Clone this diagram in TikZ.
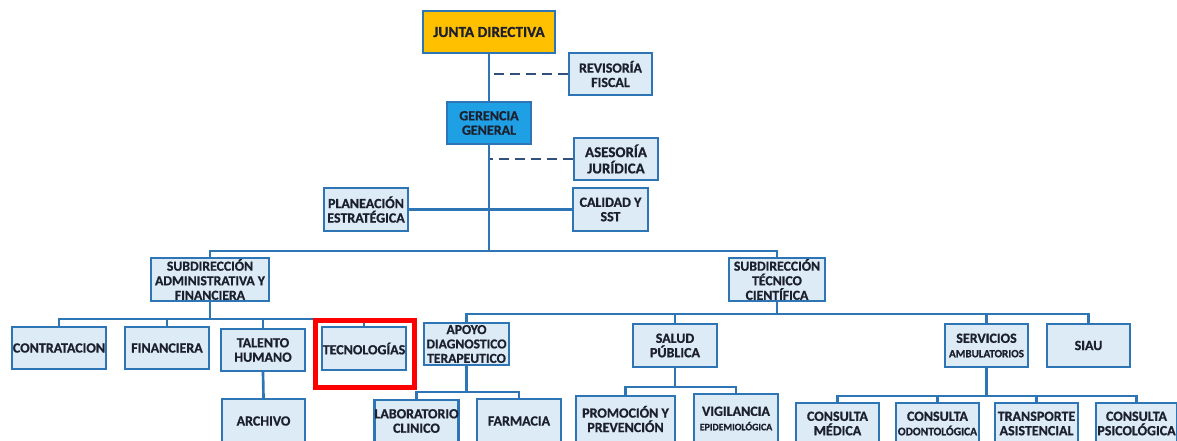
\documentclass[tikz,border=0pt]{standalone}
\usepackage{fontspec}
\setmainfont{Carlito}[BoldFeatures={FakeBold=0.8}]
\usetikzlibrary{backgrounds}
\definecolor{bdr}{RGB}{46,117,182}
\definecolor{dashc}{RGB}{50,80,125}
\definecolor{boxfill}{RGB}{221,235,247}
\definecolor{gold}{RGB}{255,192,0}
\definecolor{gblue}{RGB}{32,160,228}
\definecolor{txt}{RGB}{28,32,46}
\tikzset{
  orgbox/.style={draw=bdr, line width=1.75pt, fill=boxfill, text=txt, align=center,
    inner sep=0pt, font=\bfseries\fontsize{10.5}{10.8}\selectfont},
  conn/.style={draw=bdr, line width=2pt},
  dconn/.style={draw=dashc, line width=2pt, dash pattern=on 7.5pt off 4.5pt},
  mark box/.style={draw=red, line width=3.8pt}
}
% \obox[opts]{name}{x1}{y1}{x2}{y2}{text}, corners given in pixel units
\newcommand\obox[7][]{%
  \node[orgbox, minimum width={(#5-#3)*0.75pt}, minimum height={(#6-#4)*0.75pt}, #1]
    (#2) at ({(#3+#5)/2},{(#4+#6)/2}) {#7};}
\begin{document}
\begin{tikzpicture}[x=0.75pt, y=-0.75pt]
\useasboundingbox (0,0) rectangle (1177,441);
\clip (0,0) rectangle (1177,441);

% ---- boxes ----
\obox[fill=gold, font=\bfseries\fontsize{11.5}{12}\selectfont]{jd}{423}{11}{555}{53}{JUNTA DIRECTIVA}
\obox{rf}{569}{53}{652}{95}{REVISORÍA\\FISCAL}
\obox[fill=gblue]{gg}{447}{102}{531}{144}{GERENCIA\\GENERAL}
\obox[font=\bfseries\fontsize{11.2}{12.2}\selectfont]{aj}{574}{138}{658}{180}{ASESORÍA\\JURÍDICA}
\obox{pe}{324}{188}{408}{231}{PLANEACIÓN\\ESTRATÉGICA}
\obox{cs}{573}{188}{648}{231}{CALIDAD Y\\SST}

\obox[font=\bfseries\fontsize{10.3}{10.9}\selectfont]{sa}{151}{258}{269}{301}{SUBDIRECCIÓN\\ADMINISTRATIVA Y\\FINANCIERA}
\obox[font=\bfseries\fontsize{10.3}{10.9}\selectfont]{st}{729}{258}{825}{301}{SUBDIRECCIÓN\\TÉCNICO\\CIENTÍFICA}

\obox{ct}{12}{327}{106}{369}{CONTRATACION}
\obox{fi}{125}{327}{209}{369}{FINANCIERA}
\obox{th}{221}{329}{305}{371}{TALENTO\\HUMANO}
\obox{te}{322}{327}{406}{370}{TECNOLOGÍAS}
\obox[font=\bfseries\fontsize{10.2}{10.8}\selectfont]{ad}{424}{323}{509}{365}{APOYO\\DIAGNOSTICO\\TERAPEUTICO}
\obox{sp}{633}{324}{717}{367}{SALUD\\PÚBLICA}
\obox{sv}{945}{324}{1028}{367}{SERVICIOS\\{\fontsize{8.3}{9.5}\selectfont AMBULATORIOS}}
\obox{si}{1047}{324}{1130}{367}{SIAU}

\obox{ar}{222}{399}{305}{443}{ARCHIVO}
\obox{lc}{375}{400}{458}{442}{LABORATORIO\\CLINICO}
\obox{fa}{477}{399}{561}{443}{FARMACIA}
\obox{pp}{576}{396}{675}{442}{PROMOCIÓN Y\\PREVENCIÓN}
\obox{ve}{694}{394}{778}{443}{VIGILANCIA\\{\fontsize{7.4}{9.5}\selectfont EPIDEMIOLÓGICA}}
\obox{cm}{796}{403}{879}{444}{CONSULTA\\MÉDICA}
\obox{co}{896}{403}{979}{444}{CONSULTA\\{\fontsize{8.6}{10}\selectfont ODONTOLÓGICA}}
\obox{ta}{995}{403}{1078}{444}{TRANSPORTE\\ASISTENCIAL}
\obox{cp}{1096}{403}{1177}{444}{CONSULTA\\PSICOLÓGICA}

% ---- bus junctions ----
\coordinate (hub) at (489,251);
\coordinate (busA) at (210,319);
\coordinate (busT) at (777,314);
\coordinate (busD) at (466.5,392);
\coordinate (busS) at (675,387);
\coordinate (busV) at (986.5,396);

% ---- connectors, kept behind the boxes ----
\begin{scope}[on background layer]
\draw[conn] (jd.south) -- (gg.north);
\draw[dconn] (rf.west) -- (rf.west -| jd.south);
\draw[dconn] (aj.west) -- (aj.west -| gg.south);
\draw[conn] (pe.east) -- (cs.west);
\draw[conn] (gg.south) -- (hub);
\draw[conn] (sa.north) |- (hub);
\draw[conn] (st.north) |- (hub);

\draw[conn] (sa.south) -- (busA);
\foreach \n in {ct,fi,th,te} \draw[conn] (\n.north) |- (busA);
\draw[conn] (th.south) -- (ar.north);

\draw[conn] (st.south) -- (busT);
\foreach \n in {ad,sp,sv,si} \draw[conn] (\n.north) |- (busT);

\draw[conn] (ad.south) -- (busD);
\foreach \n in {lc,fa} \draw[conn] (\n.north) |- (busD);

\draw[conn] (sp.south) -- (busS);
\foreach \n in {pp,ve} \draw[conn] (\n.north) |- (busS);

\draw[conn] (sv.south) -- (busV);
\foreach \n in {cm,co,ta,cp} \draw[conn] (\n.north) |- (busV);
\end{scope}

% highlight frame around TECNOLOGÍAS
\draw[mark box] (315.8,320.8) rectangle (414.8,387.5);
\end{tikzpicture}
\end{document}
